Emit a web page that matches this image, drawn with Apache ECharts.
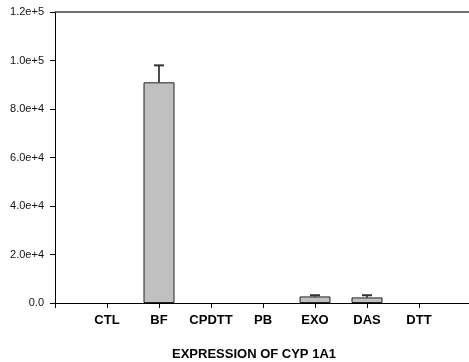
<!DOCTYPE html>
<html>
<head>
<meta charset="utf-8">
<script src="https://cdn.jsdelivr.net/npm/echarts@6/dist/echarts.min.js"></script>
<style>
  html, body { margin: 0; padding: 0; background: #fff; }
  #chart { width: 469px; height: 362px; }
</style>
</head>
<body>
<div id="chart"></div>
<script>
// CYP 1A1 expression by treatment (mean and SD)
const categories = ['CTL', 'BF', 'CPDTT', 'PB', 'EXO', 'DAS', 'DTT'];
const means = [0, 91000, 0, 0, 2700, 2300, 0];
const errors = [0, 7000, 0, 0, 500, 900, 0];
const yTicks = [0, 20000, 40000, 60000, 80000, 100000, 120000];

// pad the axis with an empty slot on each side so the categories sit at 1..7
const axisCats = [''].concat(categories, ['']);
// zero means leave no visible bar
const barData = [null].concat(means.map(v => (v > 0 ? v : null)), [null]);
const errData = categories.map((c, i) => [i + 1, means[i], means[i] + errors[i]])
  .filter(d => d[2] > d[1]);

const font = 'Arial, "Liberation Sans", sans-serif';
const chart = echarts.init(document.getElementById('chart'));

chart.setOption({
  animation: false,
  grid: { left: 55, right: -2, top: 12, bottom: 59, outerBoundsMode: 'none', containLabel: false },
  xAxis: [{
    type: 'category',
    data: axisCats,
    boundaryGap: false,
    axisLine: { lineStyle: { color: '#000', width: 1 } },
    axisTick: { show: true, length: 5, inside: false, lineStyle: { color: '#000' } },
    axisLabel: {
      color: '#000', fontFamily: font, fontWeight: 'bold', fontSize: 13,
      margin: 11, interval: 0
    },
    name: 'EXPRESSION OF CYP 1A1',
    nameLocation: 'middle',
    nameGap: 45,
    nameTextStyle: {
      color: '#000', fontFamily: font, fontWeight: 'bold', fontSize: 13,
      padding: [0, 18, 0, 0]
    }
  }, {
    type: 'category',
    position: 'top',
    data: axisCats,
    boundaryGap: false,
    axisLine: { lineStyle: { color: '#444', width: 1.5 } },
    axisTick: { show: false },
    axisLabel: { show: false }
  }],
  yAxis: {
    type: 'value',
    min: yTicks[0],
    max: yTicks[yTicks.length - 1],
    interval: 20000,
    axisLine: { show: true, lineStyle: { color: '#000' } },
    axisTick: { show: true, length: 5, lineStyle: { color: '#000' } },
    splitLine: { show: false },
    axisLabel: {
      color: '#111', fontFamily: font, fontSize: 11, margin: 11,
      formatter: v => v === 0 ? '0.0' : v.toExponential(1)
    }
  },
  series: [{
    type: 'bar',
    data: barData,
    barWidth: 31,
    itemStyle: { color: '#c0c0c0', borderColor: '#222', borderWidth: 1 }
  }, {
    type: 'custom',
    data: errData,
    z: 1,
    renderItem: (params, api) => {
      const x = api.value(0);
      const top = api.coord([x, api.value(2)]);
      const base = api.coord([x, api.value(1)]);
      const hw = 5;
      return {
        type: 'group',
        children: [{
          type: 'line',
          shape: { x1: top[0], y1: top[1], x2: base[0], y2: base[1] },
          style: { stroke: '#111', lineWidth: 1.5 }
        }, {
          type: 'line',
          shape: { x1: top[0] - hw, y1: top[1], x2: top[0] + hw, y2: top[1] },
          style: { stroke: '#333', lineWidth: 2 }
        }]
      };
    }
  }]
});
</script>
</body>
</html>
